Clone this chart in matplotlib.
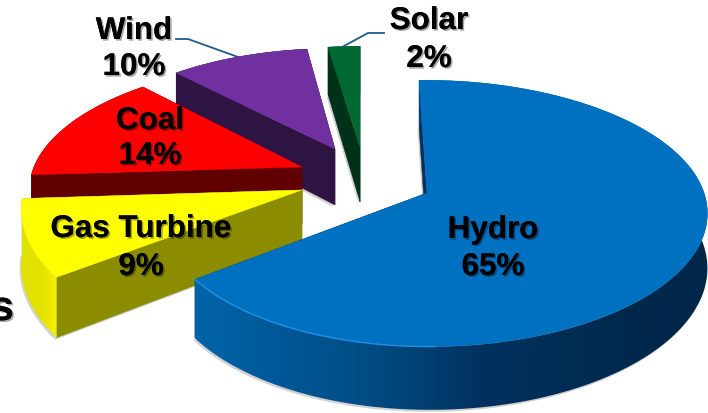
#!/usr/bin/env python
import numpy as np
import matplotlib
matplotlib.use("Agg")
import matplotlib.pyplot as plt
import matplotlib.patheffects as pe
from matplotlib.patches import Polygon

plt.rcParams["font.family"] = ["Liberation Sans", "DejaVu Sans"]

# chart data
names = ["Hydro", "Gas Turbine", "Coal", "Wind", "Solar"]
shares = [65, 9, 14, 10, 2]

# look of each slice
top_colors = ["#0070c0", "#ffff00", "#ff0000", "#7030a0", "#006a32"]
wall_colors = ["#00325a", "#8c8c00", "#600000", "#2e1442", "#00321a"]
apex = [(427, 193), (302, 190), (302, 167), (335, 149), (360, 147)]
radius_x = [270.4, 278, 268, 258, 294]
radius_y = [130, 135, 122, 116, 116]
shear = [-8, -3, 8, 0, 0]
bend = [5.6, 0, 0, 0, 0]
tilt = [-3, 0, 0, 0, 0]
depth = [53.5, 55, 57, 56, 55]
PERSPECTIVE = 0.1536

label_pos = [(493, 230), (141, 229), (150, 121), (134, 31), (429, 21)]
pct_pos = [(493, 267), (141, 267), (150, 156), (134, 67), (429, 59)]

# rim gradients, left to right
rim_stops = {
    0: ([195, 370, 480, 600, 707],
        [(0, 100, 168), (0, 76, 132), (0, 50, 95), (0, 42, 80), (0, 38, 72)]),
    1: ([20, 40, 64], [(225, 225, 0), (225, 225, 0), (250, 250, 0)]),
}

fig = plt.figure(figsize=(7.08, 4.13), dpi=100, facecolor="white")
ax = fig.add_axes([0, 0, 1, 1])


def project(i, theta):
    # clockwise from 12 o'clock, tilted with a bit of perspective
    t = np.radians(theta)
    u, v = np.sin(t), np.cos(t)
    s = 1 / (1 + PERSPECTIVE * v)
    x = apex[i][0] + radius_x[i] * u * s + shear[i] * v + bend[i] * u ** 2
    y = apex[i][1] - radius_y[i] * v * s + tilt[i] * u
    return x, y, s


edges = np.concatenate([[0], np.cumsum(shares)]) * 3.6


def draw_rim(i, x, y, d, z):
    rim = np.column_stack([np.r_[x, x[::-1]], np.r_[y, (y + d)[::-1]]])
    if i not in rim_stops:
        ax.add_patch(Polygon(rim, closed=True, fc=wall_colors[i], ec=wall_colors[i],
                             lw=0.3, zorder=z))
        return
    stops, cols = rim_stops[i]
    x0, x1 = rim[:, 0].min(), rim[:, 0].max()
    y0, y1 = rim[:, 1].min(), rim[:, 1].max()
    xs = np.linspace(x0, x1, 400)
    grad = np.stack([np.interp(xs, stops, [c[k] for c in cols]) / 255 for k in range(3)], axis=-1)
    im = ax.imshow(grad[None, :, :], extent=(x0, x1, y1, y0), aspect="auto", zorder=z,
                   interpolation="bilinear")
    patch = Polygon(rim, closed=True, fc="none", ec="none", transform=ax.transData)
    ax.add_patch(patch)
    im.set_clip_path(patch)


def draw_slice(i, z):
    th = np.linspace(edges[i], edges[i + 1], max(int(edges[i + 1] - edges[i]) * 2, 12))
    x, y, s = project(i, th)
    d = depth[i] * s
    ax0, ay0 = apex[i]
    top = np.column_stack([np.r_[ax0, x], np.r_[ay0, y]])
    bottom = np.column_stack([np.r_[ax0, x], np.r_[ay0 + depth[i], y + d]])

    # drop shadow from the base of the slice
    ax.add_patch(Polygon(bottom + [-1.5, 2], closed=True, fc="#909090", ec="none",
                         alpha=0.4, zorder=z))

    # flat walls running to the apex
    for k in (0, -1):
        wall = [(x[k], y[k]), (ax0, ay0), (ax0, ay0 + depth[i]), (x[k], y[k] + d[k])]
        ax.add_patch(Polygon(wall, closed=True, fc=wall_colors[i], ec=wall_colors[i],
                             lw=0.3, zorder=z + 0.1))
    draw_rim(i, x, y, d, z + 0.2)
    ax.add_patch(Polygon(top, closed=True, fc=top_colors[i], ec=top_colors[i],
                         lw=0.3, zorder=z + 0.3))


# back slices first, hydro last
for z, i in enumerate([3, 4, 2, 1, 0]):
    draw_slice(i, z + 2)

# light edge on the front of the hydro slice
th = np.linspace(180, edges[1], 60)
hx, hy, _ = project(0, th)
ax.plot(hx, hy, color="#2090e0", lw=1.0, zorder=6.4)

# leader lines
ax.plot([176, 188, 238], [39, 39, 57], color="#1f5a8c", lw=1.3, zorder=1)
ax.plot([344, 368, 384], [46, 33, 33], color="#1f5a8c", lw=1.3, zorder=8)

shadow = [pe.withSimplePatchShadow(offset=(1.2, -1.2), shadow_rgbFace="#000000", alpha=0.35),
          pe.Normal()]
for i, name in enumerate(names):
    for pos, txt in ((label_pos[i], name), (pct_pos[i], f"{shares[i]}%")):
        ax.text(pos[0], pos[1], txt, fontsize=22.6, fontweight="bold", color="black",
                ha="center", va="center", zorder=10, path_effects=shadow)

# cut-off word at the left edge of the slide
ax.text(14, 320, "s", fontsize=30, fontweight="bold", color="black", ha="right",
        va="baseline", zorder=10, path_effects=shadow)

ax.set_xlim(0, 708)
ax.set_ylim(413, 0)
ax.axis("off")

fig.savefig("out.png", dpi=100, facecolor="white")
